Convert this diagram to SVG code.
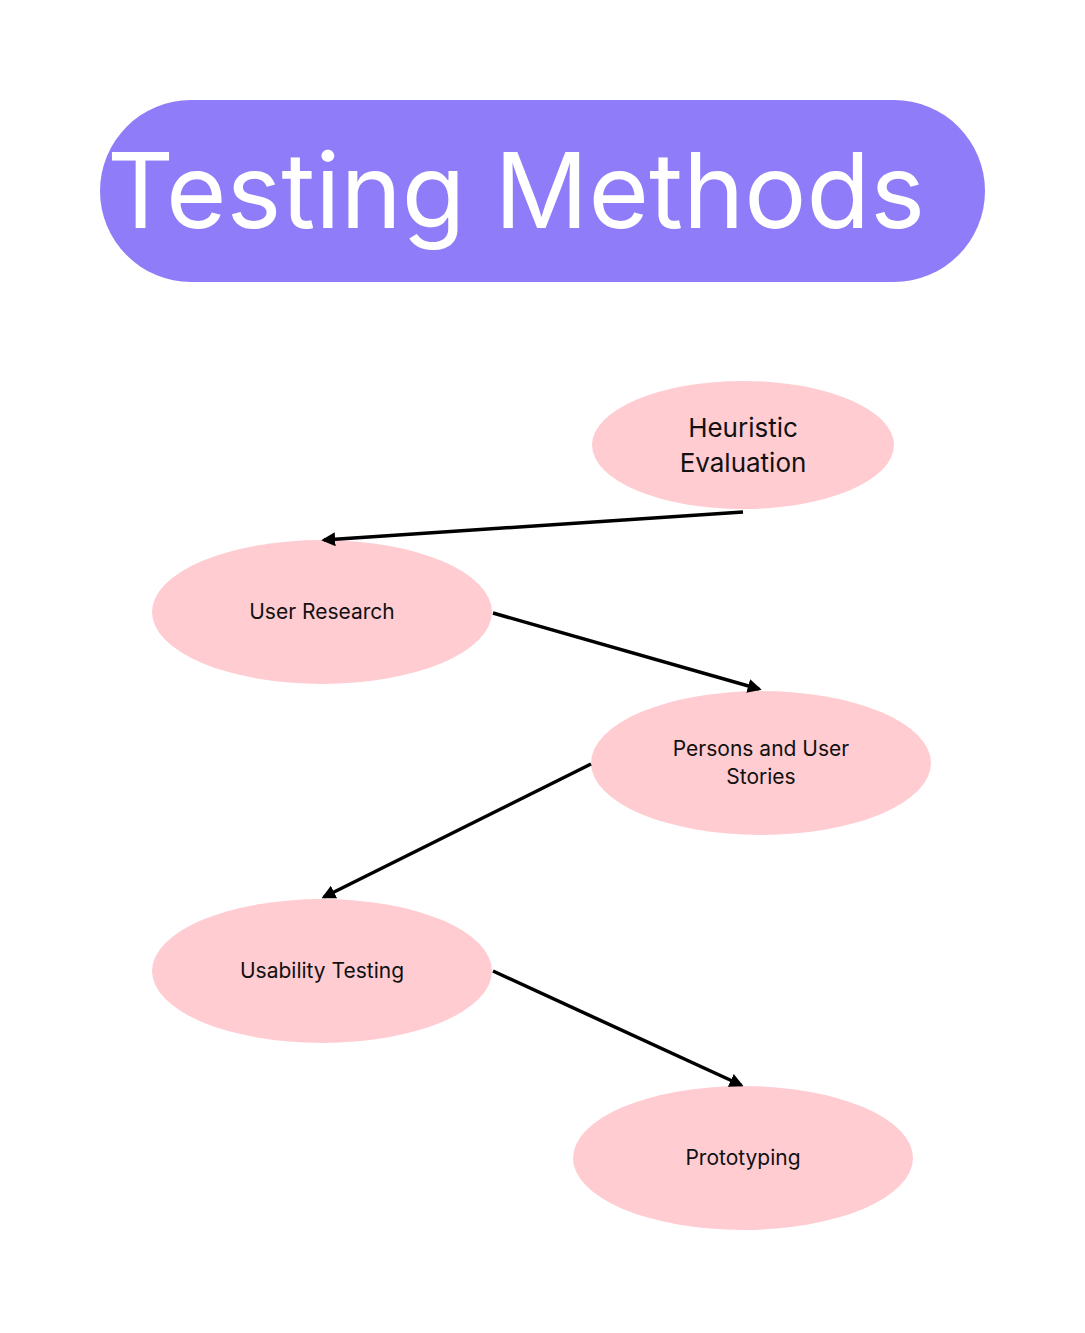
<svg xmlns="http://www.w3.org/2000/svg" width="1085" height="1333" viewBox="0 0 1085 1333">
<style>
.n{fill:#ffccd2}
.t{font-family:Inter,"Open Sans",sans-serif;fill:#111;text-anchor:middle}
.c{stroke:#000;stroke-width:3.5;fill:none;marker-end:url(#a)}
</style>
<defs><marker id="a" viewBox="0 0 10 10" refX="8" refY="5" markerWidth="4" markerHeight="4" orient="auto"><path d="M0,0L10,5L0,10z" fill="#000"/></marker></defs>
<rect width="1085" height="1333" fill="#fff"/>
<g id="title"><rect x="100" y="100" width="885" height="182" rx="91" fill="#8f7cf8"/>
<text x="107" y="228" font-family="Inter,'Open Sans',sans-serif" font-size="104" fill="#fff" textLength="818" lengthAdjust="spacingAndGlyphs">Testing Methods</text></g>
<g id="n1"><ellipse class="n" cx="743" cy="445" rx="151" ry="64"/><text class="t" font-size="26" x="743" y="437">Heuristic</text><text class="t" font-size="26" x="743" y="472">Evaluation</text></g>
<g id="n2"><ellipse class="n" cx="322" cy="612" rx="170" ry="72"/><text class="t" font-size="21" x="322" y="619">User Research</text></g>
<g id="n3"><ellipse class="n" cx="761" cy="763" rx="170" ry="72"/><text class="t" font-size="21" x="761" y="756">Persons and User</text><text class="t" font-size="21" x="761" y="784">Stories</text></g>
<g id="n4"><ellipse class="n" cx="322" cy="971" rx="170" ry="72"/><text class="t" font-size="21" x="322" y="978">Usability Testing</text></g>
<g id="n5"><ellipse class="n" cx="743" cy="1158" rx="170" ry="72"/><text class="t" font-size="21" x="743" y="1165">Prototyping</text></g>
<g id="connectors">
<path class="c" d="M743,512L324,540"/>
<path class="c" d="M493,613L759,689"/>
<path class="c" d="M591,764L324,897"/>
<path class="c" d="M493,971L741,1085"/>
</g>
</svg>
